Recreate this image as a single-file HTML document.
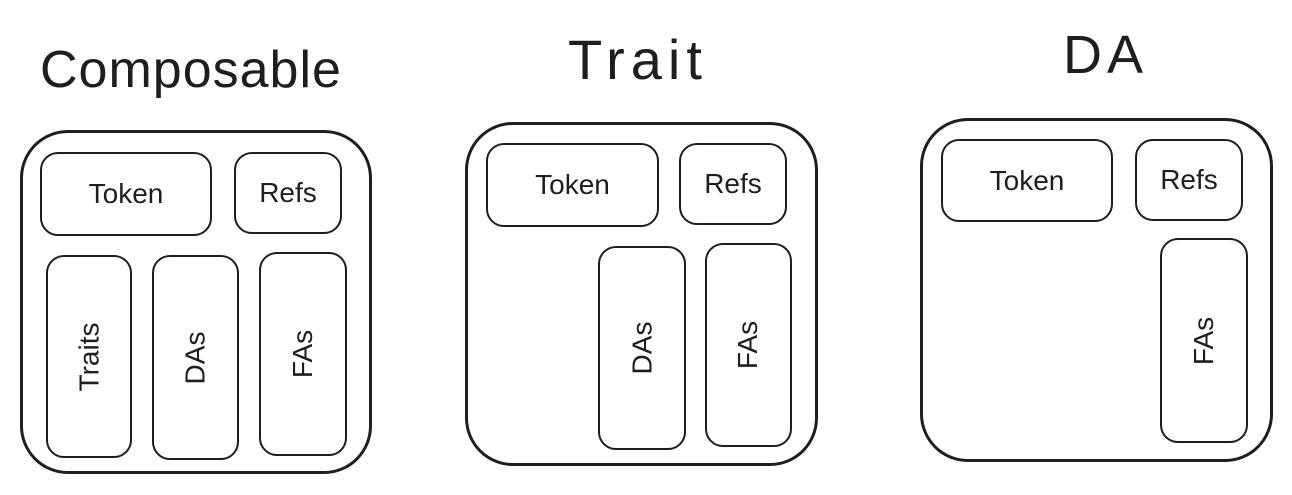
<!DOCTYPE html>
<html><head><meta charset="utf-8"><style>
body{margin:0;background:#fff;width:1292px;height:495px;overflow:hidden;position:relative;font-family:"Liberation Sans",sans-serif;color:#1e1e1e}
.b{position:absolute;border:3px solid #1e1e1e;box-sizing:border-box;background:#fff}
.o{border-radius:48px}
.i{border-radius:18px;border-width:2.5px;display:flex;align-items:center;justify-content:center;font-size:28px}
.v span{transform:rotate(-90deg);white-space:nowrap;display:block}
.t{position:absolute;font-size:50px;line-height:1}
</style></head><body>
<div class="t" style="left:40px;top:44px;font-size:52px;letter-spacing:1px">Composable</div>
<div class="t" style="left:568px;top:32px;font-size:56px;letter-spacing:6px">Trait</div>
<div class="t" style="left:1063px;top:28px;font-size:54px;letter-spacing:5px">DA</div>

<div class="b o" style="left:20px;top:130px;width:352px;height:344px"></div>
<div class="b i" style="left:40px;top:152px;width:172px;height:84px">Token</div>
<div class="b i" style="left:234px;top:152px;width:108px;height:82px">Refs</div>
<div class="b i v" style="left:46px;top:255px;width:86px;height:203px"><span>Traits</span></div>
<div class="b i v" style="left:152px;top:255px;width:87px;height:205px"><span>DAs</span></div>
<div class="b i v" style="left:259px;top:252px;width:88px;height:204px"><span>FAs</span></div>

<div class="b o" style="left:465px;top:122px;width:353px;height:344px"></div>
<div class="b i" style="left:486px;top:143px;width:173px;height:84px">Token</div>
<div class="b i" style="left:679px;top:143px;width:108px;height:82px">Refs</div>
<div class="b i v" style="left:598px;top:246px;width:88px;height:204px"><span>DAs</span></div>
<div class="b i v" style="left:705px;top:243px;width:87px;height:204px"><span>FAs</span></div>

<div class="b o" style="left:920px;top:118px;width:353px;height:344px"></div>
<div class="b i" style="left:941px;top:139px;width:172px;height:83px">Token</div>
<div class="b i" style="left:1135px;top:139px;width:108px;height:82px">Refs</div>
<div class="b i v" style="left:1160px;top:238px;width:88px;height:205px"><span>FAs</span></div>
</body></html>
